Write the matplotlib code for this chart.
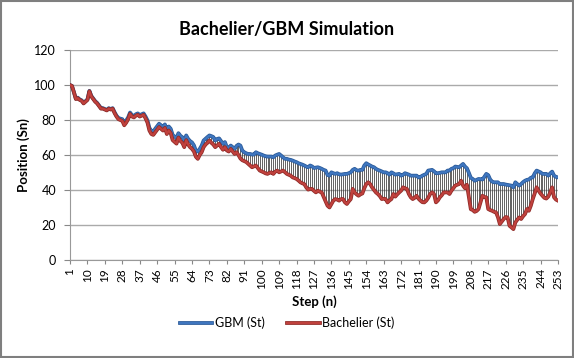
import numpy as np
import matplotlib
matplotlib.use("Agg")
import matplotlib.pyplot as plt
import matplotlib.patheffects as pe
from matplotlib.patches import Rectangle

# simulated paths (steps 1..253)
gbm = [
    100, 99.5, 96, 92.3, 92.8, 91.8, 91.3, 89.8, 90.8, 91.8,
    96.7, 93.8, 92.3, 90.8, 89.8, 88.3, 86.8, 86.8, 86.3, 85.8,
    86.8, 86.3, 86.8, 84.5, 82.5, 81.2, 80.8, 80.5, 78.3, 79.7,
    81.5, 84.3, 82.8, 82.3, 83.3, 83.8, 82.8, 83.3, 83.8, 82,
    79.8, 75.5, 73.8, 73.3, 75, 76.5, 77.9, 77, 76, 77.5,
    74.5, 76.3, 75, 71.5, 70.5, 69.8, 72.5, 71, 70.2, 68,
    71.2, 69.2, 68, 67.2, 65.5, 62.5, 62, 63.5, 65.4, 68.3,
    69.3, 70.3, 71.2, 70.8, 70.3, 68.3, 69.2, 69.5, 68, 66.4,
    67.4, 64.5, 64, 65.4, 64.5, 63.5, 65.2, 66, 65.4, 62.5,
    61.6, 61, 60.6, 60.6, 60.3, 60.3, 61.6, 61, 60.6, 60.2,
    59.7, 59.3, 59.1, 59.1, 59.1, 58.7, 59.7, 60.2, 60.6, 59.7,
    58.7, 57.8, 57.8, 57.4, 57.2, 56.8, 56.3, 55.9, 55.3, 54.9,
    54.5, 54, 53.4, 53, 54, 53.5, 52.6, 52.8, 53, 52.6,
    52.1, 51.5, 51.1, 48.6, 48.2, 50.1, 49.6, 49.2, 49.6, 49,
    48.8, 49, 49.2, 49.2, 49.6, 50.1, 51.5, 52.1, 51.3, 51.1,
    51.5, 51.5, 54, 55.3, 54.6, 54, 53.4, 53, 52.1, 51.5,
    51.1, 50.6, 50.1, 50.1, 49.6, 48.8, 50.1, 49.5, 48.8, 49,
    49.2, 48.2, 48.7, 49.6, 49.2, 48.8, 48.2, 48.2, 48.2, 48.2,
    47.2, 47.5, 48.2, 48.7, 49.2, 51.1, 51.3, 51.5, 50.7, 49.6,
    49.6, 49.8, 50.1, 50.1, 50.1, 51.1, 51.1, 52.1, 52.5, 53.4,
    53.2, 53, 54, 54.9, 53.4, 52.4, 49.8, 47, 46.3, 45.3,
    45.8, 46.3, 46.2, 46, 47.5, 49.2, 48.5, 46, 44.8, 44.4,
    44.4, 44.4, 43.4, 43.4, 43.4, 43.1, 42.9, 42.7, 42.5, 41.5,
    44.4, 43.4, 42.5, 43.4, 44.5, 45.3, 45.8, 46, 47, 47.2,
    49.5, 51.1, 50.6, 50.1, 49.2, 49.2, 49.2, 48.2, 49.5, 50.5,
    48.2, 47.5, 47.2,
]

bachelier = [
    100, 99.5, 96, 92, 92.5, 91.5, 91, 89.5, 90.5, 91.5,
    96.5, 93.5, 92, 90.5, 89.5, 88, 86.5, 86.5, 86, 85.5,
    86.5, 86, 86.5, 84, 82, 80.5, 80, 79.5, 77, 78.5,
    80.5, 83.5, 82, 81.5, 82.5, 83, 82, 82.5, 83, 81,
    78.5, 74, 72, 71.5, 73, 74.5, 76, 75, 74, 75.5,
    72, 74, 72.5, 68.5, 67.5, 66.5, 70, 68, 67, 64.5,
    68.5, 66, 64.5, 63.5, 62, 59, 57.8, 60, 61.6, 64.5,
    66, 67, 68.3, 67, 66, 64.5, 65.5, 66.4, 64.5, 63,
    64.5, 62.6, 62, 63.5, 62, 60.6, 61.6, 60, 58, 57,
    56.5, 56, 55, 54, 53, 53.5, 54, 52.5, 51.1, 50.6,
    50.1, 49.5, 49.2, 49.8, 50.1, 49.2, 50.5, 51.1, 50.1, 50.6,
    51.1, 50.2, 49.2, 48.7, 48.2, 47.2, 46.8, 46.3, 45.4, 44.4,
    43.8, 43.4, 41.5, 40.2, 40.6, 40.6, 39.5, 38.6, 39.6, 39,
    38.6, 36, 33.5, 31, 30, 32, 33.9, 34.8, 34.5, 33.9,
    34.8, 34.8, 32.9, 32, 33.5, 34.8, 40.6, 38.6, 37.5, 36.7,
    37.5, 38, 41, 43.4, 44.4, 43.4, 41.5, 40, 38.6, 37.7,
    36.5, 34.8, 35, 34.8, 32.9, 34, 34.8, 37.7, 36.2, 37.5,
    38.6, 39.6, 41.5, 41, 40.6, 37.7, 35.8, 34.8, 35.5, 36.7,
    35, 33.9, 33, 32.9, 33.9, 35.5, 37.7, 38.6, 37.7, 32.9,
    34, 35.8, 37, 38.6, 38.6, 38.6, 37.7, 39.6, 41, 42.5,
    43, 43.4, 45.3, 42.5, 41, 43, 36, 29, 28.5, 27.5,
    28, 29.1, 33, 36.7, 36, 35.8, 29.1, 28.5, 28.1, 27.5,
    27.2, 24.5, 20.5, 22, 23.4, 24.5, 24.3, 19.5, 18.6, 17.6,
    21.4, 23, 24.3, 23.4, 25, 26.2, 29.1, 28.1, 31, 34.8,
    38, 41.5, 39.6, 38, 36.7, 35.5, 35.1, 36.2, 38.5, 41.5,
    35.8, 34.5, 33.9,
]

steps = np.arange(1, len(gbm) + 1)

plt.rcParams['font.family'] = ['Lato', 'DejaVu Sans']

fig = plt.figure(figsize=(5.74, 3.58), dpi=100)
ax = fig.add_axes([0.122, 0.274, 0.850, 0.586])

# high-low lines between the two series
ax.vlines(steps, bachelier, gbm, color='#383838', lw=0.55, zorder=2)

ax.plot(steps, gbm, color='#3F76BF', lw=1.6, zorder=3, label='GBM (St)',
        path_effects=[pe.Stroke(linewidth=2.7, foreground='#2A5A98'), pe.Normal()])
ax.plot(steps, bachelier, color='#C0413D', lw=1.6, zorder=4, label='Bachelier (St)',
        path_effects=[pe.Stroke(linewidth=2.7, foreground='#8E2A27'), pe.Normal()])

ax.set_xlim(1, 253)
ax.set_ylim(0, 120)
ax.set_yticks(np.arange(0, 121, 20))
ax.set_xticks(steps[::9])
ax.set_xticklabels([str(s) for s in steps[::9]], rotation=90, fontsize=8.5)
ax.tick_params(axis='y', labelsize=9, length=4, color='#888888', pad=6)
ax.tick_params(axis='x', length=3, color='#888888', pad=3)

ax.grid(axis='y', color='#AAAAAA', lw=1.0, zorder=0)
ax.set_axisbelow(True)
for side in ['top', 'right']:
    ax.spines[side].set_visible(False)
for side in ['left', 'bottom']:
    ax.spines[side].set_color('#999999')

ax.set_xlabel('Step (n)', fontsize=9.5, fontweight='bold', labelpad=5)
ax.set_ylabel('Position (Sn)', fontsize=9.5, fontweight='bold', labelpad=3)
fig.suptitle('Bachelier/GBM Simulation', fontsize=13, fontweight='bold', y=0.94)

fig.legend(loc='center', bbox_to_anchor=(0.5, 1 - 323 / 358), ncol=2,
           frameon=False, fontsize=9, handlelength=2.6, columnspacing=1.8,
           handletextpad=0.2)

# chart border
fig.patches.append(Rectangle((0.002, 0.003), 0.996, 0.994, transform=fig.transFigure,
                             fill=False, edgecolor='#7F7F7F', lw=1.5))

fig.savefig('out.png', dpi=100)
